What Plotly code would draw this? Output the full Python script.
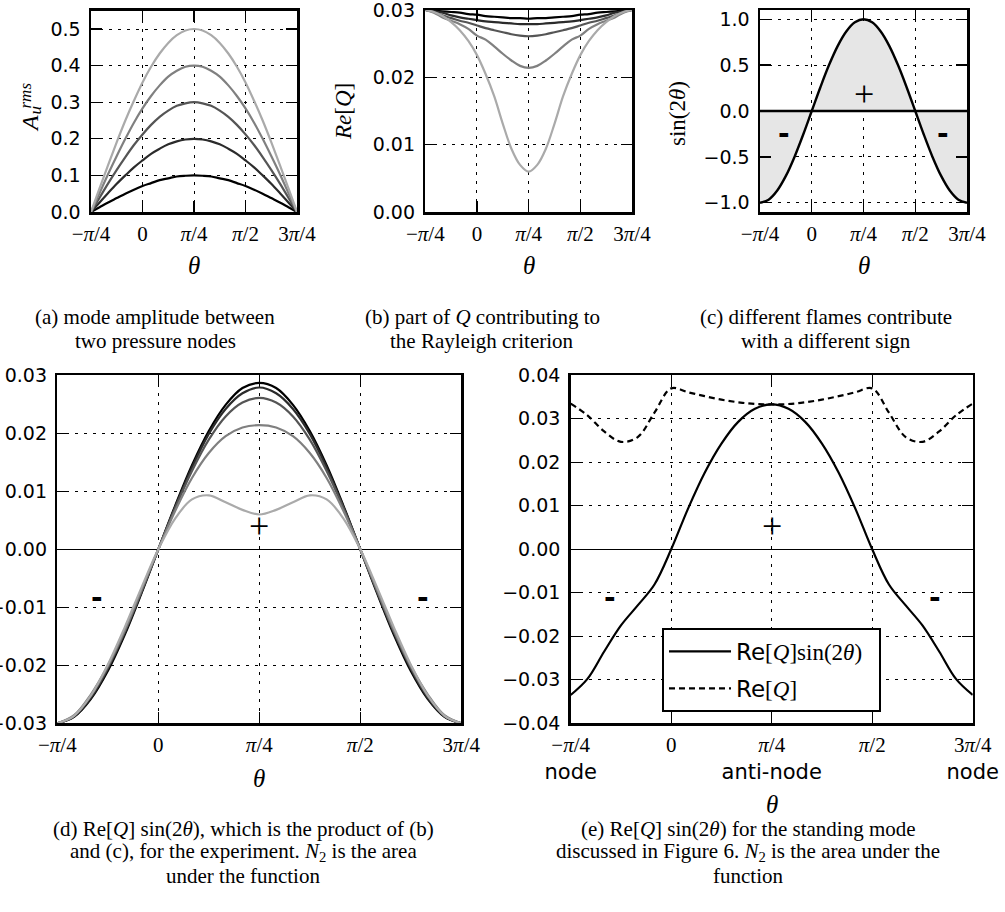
import plotly.graph_objects as go

W, H = 1005, 912
SERIF = "Liberation Serif"
SANS = "DejaVu Sans"

# ---------------- data ----------------
theta = [-45, -37.5, -30, -22.5, -15, -7.5, 0, 7.5, 15, 22.5, 30, 37.5, 45,
         52.5, 60, 67.5, 75, 82.5, 90, 97.5, 105, 112.5, 120, 127.5, 135]

x_tick_vals = [-45, 0, 45, 90, 135]
x_tick_text = ["−<i>π</i>/4", "0", "<i>π</i>/4", "<i>π</i>/2", "3<i>π</i>/4"]
x_tick_text_e = ["−<i>π</i>/4<br><span style='font-family:DejaVu Sans'>node</span>", "0",
                 "<i>π</i>/4<br><span style='font-family:DejaVu Sans'>anti-node</span>", "<i>π</i>/2",
                 "3<i>π</i>/4<br><span style='font-family:DejaVu Sans'>node</span>"]

# (a) mode amplitude
amp_01 = [0.000, 0.013, 0.026, 0.038, 0.050, 0.061, 0.071, 0.079, 0.087, 0.092, 0.097, 0.099, 0.100,
          0.099, 0.097, 0.092, 0.087, 0.079, 0.071, 0.061, 0.050, 0.038, 0.026, 0.013, 0.000]
amp_02 = [0.000, 0.026, 0.052, 0.077, 0.100, 0.122, 0.141, 0.159, 0.173, 0.185, 0.193, 0.198, 0.200,
          0.198, 0.193, 0.185, 0.173, 0.159, 0.141, 0.122, 0.100, 0.077, 0.052, 0.026, 0.000]
amp_03 = [0.000, 0.039, 0.078, 0.115, 0.150, 0.183, 0.212, 0.238, 0.260, 0.277, 0.290, 0.297, 0.300,
          0.297, 0.290, 0.277, 0.260, 0.238, 0.212, 0.183, 0.150, 0.115, 0.078, 0.039, 0.000]
amp_04 = [0.000, 0.052, 0.104, 0.153, 0.200, 0.244, 0.283, 0.317, 0.346, 0.370, 0.386, 0.397, 0.400,
          0.397, 0.386, 0.370, 0.346, 0.317, 0.283, 0.244, 0.200, 0.153, 0.104, 0.052, 0.000]
amp_05 = [0.000, 0.065, 0.129, 0.191, 0.250, 0.304, 0.354, 0.397, 0.433, 0.462, 0.483, 0.496, 0.500,
          0.496, 0.483, 0.462, 0.433, 0.397, 0.354, 0.304, 0.250, 0.191, 0.129, 0.065, 0.000]

# (b) Re[Q]
req_01 = [0.0300, 0.0299, 0.0298, 0.0297, 0.0296, 0.0294, 0.0293, 0.0291, 0.0290, 0.0289, 0.0288, 0.0288, 0.0287,
          0.0288, 0.0288, 0.0289, 0.0290, 0.0291, 0.0293, 0.0294, 0.0296, 0.0297, 0.0298, 0.0299, 0.0300]
req_02 = [0.0300, 0.0298, 0.0296, 0.0292, 0.0289, 0.0287, 0.0285, 0.0283, 0.0282, 0.0281, 0.0280, 0.0279, 0.0279,
          0.0279, 0.0280, 0.0281, 0.0282, 0.0283, 0.0285, 0.0287, 0.0289, 0.0292, 0.0296, 0.0298, 0.0300]
req_03 = [0.0300, 0.0297, 0.0292, 0.0288, 0.0284, 0.0281, 0.0277, 0.0273, 0.0270, 0.0267, 0.0264, 0.0262, 0.0261,
          0.0262, 0.0264, 0.0267, 0.0270, 0.0273, 0.0277, 0.0281, 0.0284, 0.0288, 0.0292, 0.0297, 0.0300]
req_04 = [0.0300, 0.0296, 0.0289, 0.0284, 0.0279, 0.0272, 0.0262, 0.0256, 0.0246, 0.0235, 0.0225, 0.0217, 0.0214,
          0.0217, 0.0225, 0.0235, 0.0246, 0.0256, 0.0262, 0.0272, 0.0279, 0.0284, 0.0289, 0.0296, 0.0300]
req_05 = [0.0300, 0.0297, 0.0291, 0.0282, 0.0270, 0.0254, 0.0233, 0.0205, 0.0172, 0.0131, 0.0094, 0.0070, 0.0060,
          0.0070, 0.0094, 0.0131, 0.0172, 0.0205, 0.0233, 0.0254, 0.0270, 0.0282, 0.0291, 0.0297, 0.0300]

# (c) sin(2 theta)
sin2t = [-1.000, -0.966, -0.866, -0.707, -0.500, -0.259, 0.000, 0.259, 0.500, 0.707, 0.866, 0.966, 1.000,
         0.966, 0.866, 0.707, 0.500, 0.259, 0.000, -0.259, -0.500, -0.707, -0.866, -0.966, -1.000]

# (d) Re[Q] sin(2 theta), experiment
prod_01 = [-0.0300, -0.0289, -0.0258, -0.0210, -0.0148, -0.0076, 0.0000, 0.0075, 0.0145, 0.0204, 0.0249, 0.0278, 0.0287,
           0.0278, 0.0249, 0.0204, 0.0145, 0.0075, 0.0000, -0.0076, -0.0148, -0.0210, -0.0258, -0.0289, -0.0300]
prod_02 = [-0.0300, -0.0288, -0.0256, -0.0206, -0.0145, -0.0074, 0.0000, 0.0073, 0.0141, 0.0199, 0.0242, 0.0269, 0.0279,
           0.0269, 0.0242, 0.0199, 0.0141, 0.0073, 0.0000, -0.0074, -0.0145, -0.0206, -0.0256, -0.0288, -0.0300]
prod_03 = [-0.0300, -0.0287, -0.0253, -0.0204, -0.0142, -0.0073, 0.0000, 0.0071, 0.0135, 0.0189, 0.0229, 0.0253, 0.0261,
           0.0253, 0.0229, 0.0189, 0.0135, 0.0071, 0.0000, -0.0073, -0.0142, -0.0204, -0.0253, -0.0287, -0.0300]
prod_04 = [-0.0300, -0.0286, -0.0250, -0.0201, -0.0140, -0.0070, 0.0000, 0.0066, 0.0123, 0.0166, 0.0195, 0.0210, 0.0214,
           0.0210, 0.0195, 0.0166, 0.0123, 0.0066, 0.0000, -0.0070, -0.0140, -0.0201, -0.0250, -0.0286, -0.0300]
prod_05 = [-0.0300, -0.0287, -0.0252, -0.0199, -0.0135, -0.0066, 0.0000, 0.0053, 0.0086, 0.0093, 0.0081, 0.0068, 0.0060,
           0.0068, 0.0081, 0.0093, 0.0086, 0.0053, 0.0000, -0.0066, -0.0135, -0.0199, -0.0252, -0.0287, -0.0300]

# (e) standing mode
req_standing = [0.0335, 0.0308, 0.0271, 0.0247, 0.0258, 0.0314, 0.0370, 0.0361, 0.0352, 0.0344, 0.0338, 0.0334, 0.0333,
                0.0334, 0.0338, 0.0344, 0.0352, 0.0361, 0.0370, 0.0314, 0.0258, 0.0247, 0.0271, 0.0308, 0.0335]
prod_standing = [-0.0335, -0.0298, -0.0235, -0.0175, -0.0129, -0.0081, 0.0000, 0.0093, 0.0176, 0.0243, 0.0293, 0.0323, 0.0333,
                 0.0323, 0.0293, 0.0243, 0.0176, 0.0093, 0.0000, -0.0081, -0.0129, -0.0175, -0.0235, -0.0298, -0.0335]

grays = ["#000000", "#2b2b2b", "#555555", "#808080", "#aaaaaa"]

# ---------------- figure ----------------
fig = go.Figure()


def add_lines(series, xa, ya):
    for vals, col in zip(series, grays):
        fig.add_trace(go.Scatter(x=theta, y=vals, mode="lines", xaxis=xa, yaxis=ya,
                                 line=dict(color=col, width=2.2, shape="spline"),
                                 showlegend=False, hoverinfo="skip"))


add_lines([amp_01, amp_02, amp_03, amp_04, amp_05], "x", "y")
add_lines([req_01, req_02, req_03, req_04, req_05], "x2", "y2")
fig.add_trace(go.Scatter(x=theta, y=sin2t, mode="lines", xaxis="x3", yaxis="y3", fill="tozeroy",
                         fillcolor="#e6e6e6", line=dict(color="black", width=2.4, shape="spline"),
                         showlegend=False, hoverinfo="skip"))
add_lines([prod_01, prod_02, prod_03, prod_04, prod_05], "x4", "y4")
fig.add_trace(go.Scatter(x=theta, y=prod_standing, mode="lines", xaxis="x5", yaxis="y5",
                         line=dict(color="black", width=2.2, shape="spline"),
                         name="<span style='font-family:DejaVu Sans'>Re</span>[<i>Q</i>]sin(2<i>θ</i>)\u00a0\u00a0",
                         legendgroup="g1", hoverinfo="skip"))
fig.add_trace(go.Scatter(x=theta, y=req_standing, mode="lines", xaxis="x5", yaxis="y5",
                         line=dict(color="black", width=2.2, dash="6px,4px", shape="spline"),
                         name="<span style='font-family:DejaVu Sans'>Re</span>[<i>Q</i>]",
                         legendgroup="g2", hoverinfo="skip"))


def dom_x(a, b):
    return [a / W, b / W]


def dom_y(top, bottom):
    return [1 - bottom / H, 1 - top / H]


base = dict(showline=True, linecolor="black", linewidth=2.5, mirror="allticks",
            ticks="inside", ticklen=11, tickwidth=1.2, tickcolor="black",
            showgrid=True, gridcolor="black", gridwidth=1, griddash="3px,6px",
            zeroline=False, fixedrange=True, automargin=False, ticklabeloverflow="allow")


def xax(domain, anchor, text=x_tick_text, standoff=1):
    d = dict(base)
    d.update(domain=domain, anchor=anchor, range=[-45, 135], tickmode="array",
             tickvals=x_tick_vals, ticktext=text, ticklabelstandoff=standoff,
             tickfont=dict(family=SERIF, size=21, color="black"))
    return d


def yax(domain, anchor, rng, vals, texts, zero=None):
    d = dict(base)
    d.update(domain=domain, anchor=anchor, range=rng, tickmode="array",
             tickvals=vals, ticktext=texts, ticklabelstandoff=4,
             tickfont=dict(family=SANS, size=19, color="black"))
    if zero is not None:
        d.update(zeroline=True, zerolinecolor="black", zerolinewidth=zero)
    return d


fig.update_layout(
    template="none",
    xaxis=xax(dom_x(91, 297), "y"),
    yaxis=yax(dom_y(10.7, 212), "x", [0, 0.55], [0, 0.1, 0.2, 0.3, 0.4, 0.5],
              ["0.0", "0.1", "0.2", "0.3", "0.4", "0.5"]),
    xaxis2=xax(dom_x(425.3, 632), "y2"),
    yaxis2=yax(dom_y(10, 212), "x2", [0, 0.03], [0, 0.01, 0.02, 0.03],
               ["0.00", "0.01", "0.02", "0.03"]),
    xaxis3=xax(dom_x(760, 967), "y3"),
    yaxis3=yax(dom_y(10, 212), "x3", [-1.1, 1.1], [-1, -0.5, 0, 0.5, 1],
               ["−1.0", "−0.5", "0.0", "0.5", "1.0"]),
    xaxis4=xax(dom_x(57.3, 461.3), "y4"),
    yaxis4=yax(dom_y(375.3, 723.3), "x4", [-0.03, 0.03],
               [-0.03, -0.02, -0.01, 0, 0.01, 0.02, 0.03],
               ["−0.03", "−0.02", "−0.01", "0.00", "0.01", "0.02", "0.03"], zero=1),
    xaxis5=xax(dom_x(570.7, 972.7), "y5", text=x_tick_text_e),
    yaxis5=yax(dom_y(375.3, 723.3), "x5", [-0.04, 0.04],
               [-0.04, -0.03, -0.02, -0.01, 0, 0.01, 0.02, 0.03, 0.04],
               ["−0.04", "−0.03", "−0.02", "−0.01", "0.00", "0.01", "0.02", "0.03", "0.04"], zero=1),
)

# thick zero line on top of the fill in (c)
fig.add_shape(type="line", xref="x3 domain", yref="y3", x0=0, x1=1, y0=0, y1=0,
              line=dict(color="black", width=2.4), layer="above")

annotations = []


def ann(text, x, y, size, family=SERIF, angle=0, xanchor="center"):
    annotations.append(dict(text=text, x=x / W, y=1 - y / H, xref="paper", yref="paper",
                            showarrow=False, font=dict(size=size, family=family, color="black"),
                            textangle=angle, xanchor=xanchor, yanchor="middle"))


def mark(text, x, y, xa, ya, size, family, bold=False):
    annotations.append(dict(text=("<b>%s</b>" % text) if bold else text, x=x, y=y, xref=xa, yref=ya,
                            showarrow=False, font=dict(size=size, family=family, color="black"),
                            xanchor="center", yanchor="middle"))


# axis titles
for xc, yc in [(194, 265), (528.6, 265), (863.5, 265), (259.3, 778), (771.7, 804)]:
    ann("<i>θ</i>", xc, yc, 25)
ann("<i>A</i>", 30, 124, 24, angle=-90)
ann("<i>u</i>", 35, 110.5, 17, angle=-90)
ann("<i>rms</i>", 24.5, 96, 17, angle=-90)
ann("<i>Re</i>[<i>Q</i>]", 344, 112, 23, angle=-90)
ann("sin(2<i>θ</i>)", 677, 114, 23, angle=-90)

# sign markers
mark("+", 45, 0.19, "x3", "y3", 36, SERIF)
mark("-", -24, -0.25, "x3", "y3", 28, SANS, bold=True)
mark("-", 114, -0.25, "x3", "y3", 28, SANS, bold=True)
mark("+", 45, 0.0041, "x4", "y4", 36, SERIF)
mark("-", -27.5, -0.0083, "x4", "y4", 28, SANS, bold=True)
mark("-", 118, -0.0083, "x4", "y4", 28, SANS, bold=True)
mark("+", 45, 0.0054, "x5", "y5", 36, SERIF)
mark("-", -27.5, -0.011, "x5", "y5", 28, SANS, bold=True)
mark("-", 118, -0.011, "x5", "y5", 28, SANS, bold=True)

# captions
CAP = 21
ann("(a) mode amplitude between", 155, 317, CAP)
ann("two pressure nodes", 155, 341, CAP)
ann("(b) part of <i>Q</i> contributing to", 482, 317, CAP)
ann("the Rayleigh criterion", 482, 341, CAP)
ann("(c) different flames contribute", 826, 317, CAP)
ann("with a different sign", 826, 341, CAP)
ann("(d) Re[<i>Q</i>] sin(2<i>θ</i>), which is the product of (b)", 243, 828.5, CAP)
ann("and (c), for the experiment. <i>N</i><sub>2</sub> is the area", 243, 852, CAP)
ann("under the function", 243, 875.5, CAP)
ann("(e) Re[<i>Q</i>] sin(2<i>θ</i>) for the standing mode", 748, 828.5, CAP)
ann("discussed in Figure 6. <i>N</i><sub>2</sub> is the area under the", 748, 852, CAP)
ann("function", 748, 875.5, CAP)

fig.update_layout(
    annotations=annotations,
    width=W, height=H,
    margin=dict(l=0, r=0, t=0, b=0, autoexpand=False),
    paper_bgcolor="white", plot_bgcolor="white",
    font=dict(family=SERIF, color="black"),
    showlegend=True,
    legend=dict(x=662 / W, y=1 - 628 / H, xanchor="left", yanchor="top",
                bgcolor="white", bordercolor="black", borderwidth=2,
                font=dict(family=SERIF, size=23, color="black"),
                traceorder="grouped", tracegroupgap=4, itemwidth=62),
)

fig.write_html("out.html", config={"displayModeBar": False, "staticPlot": True},
               post_script="document.body.style.margin='0';document.body.style.overflow='hidden';")
